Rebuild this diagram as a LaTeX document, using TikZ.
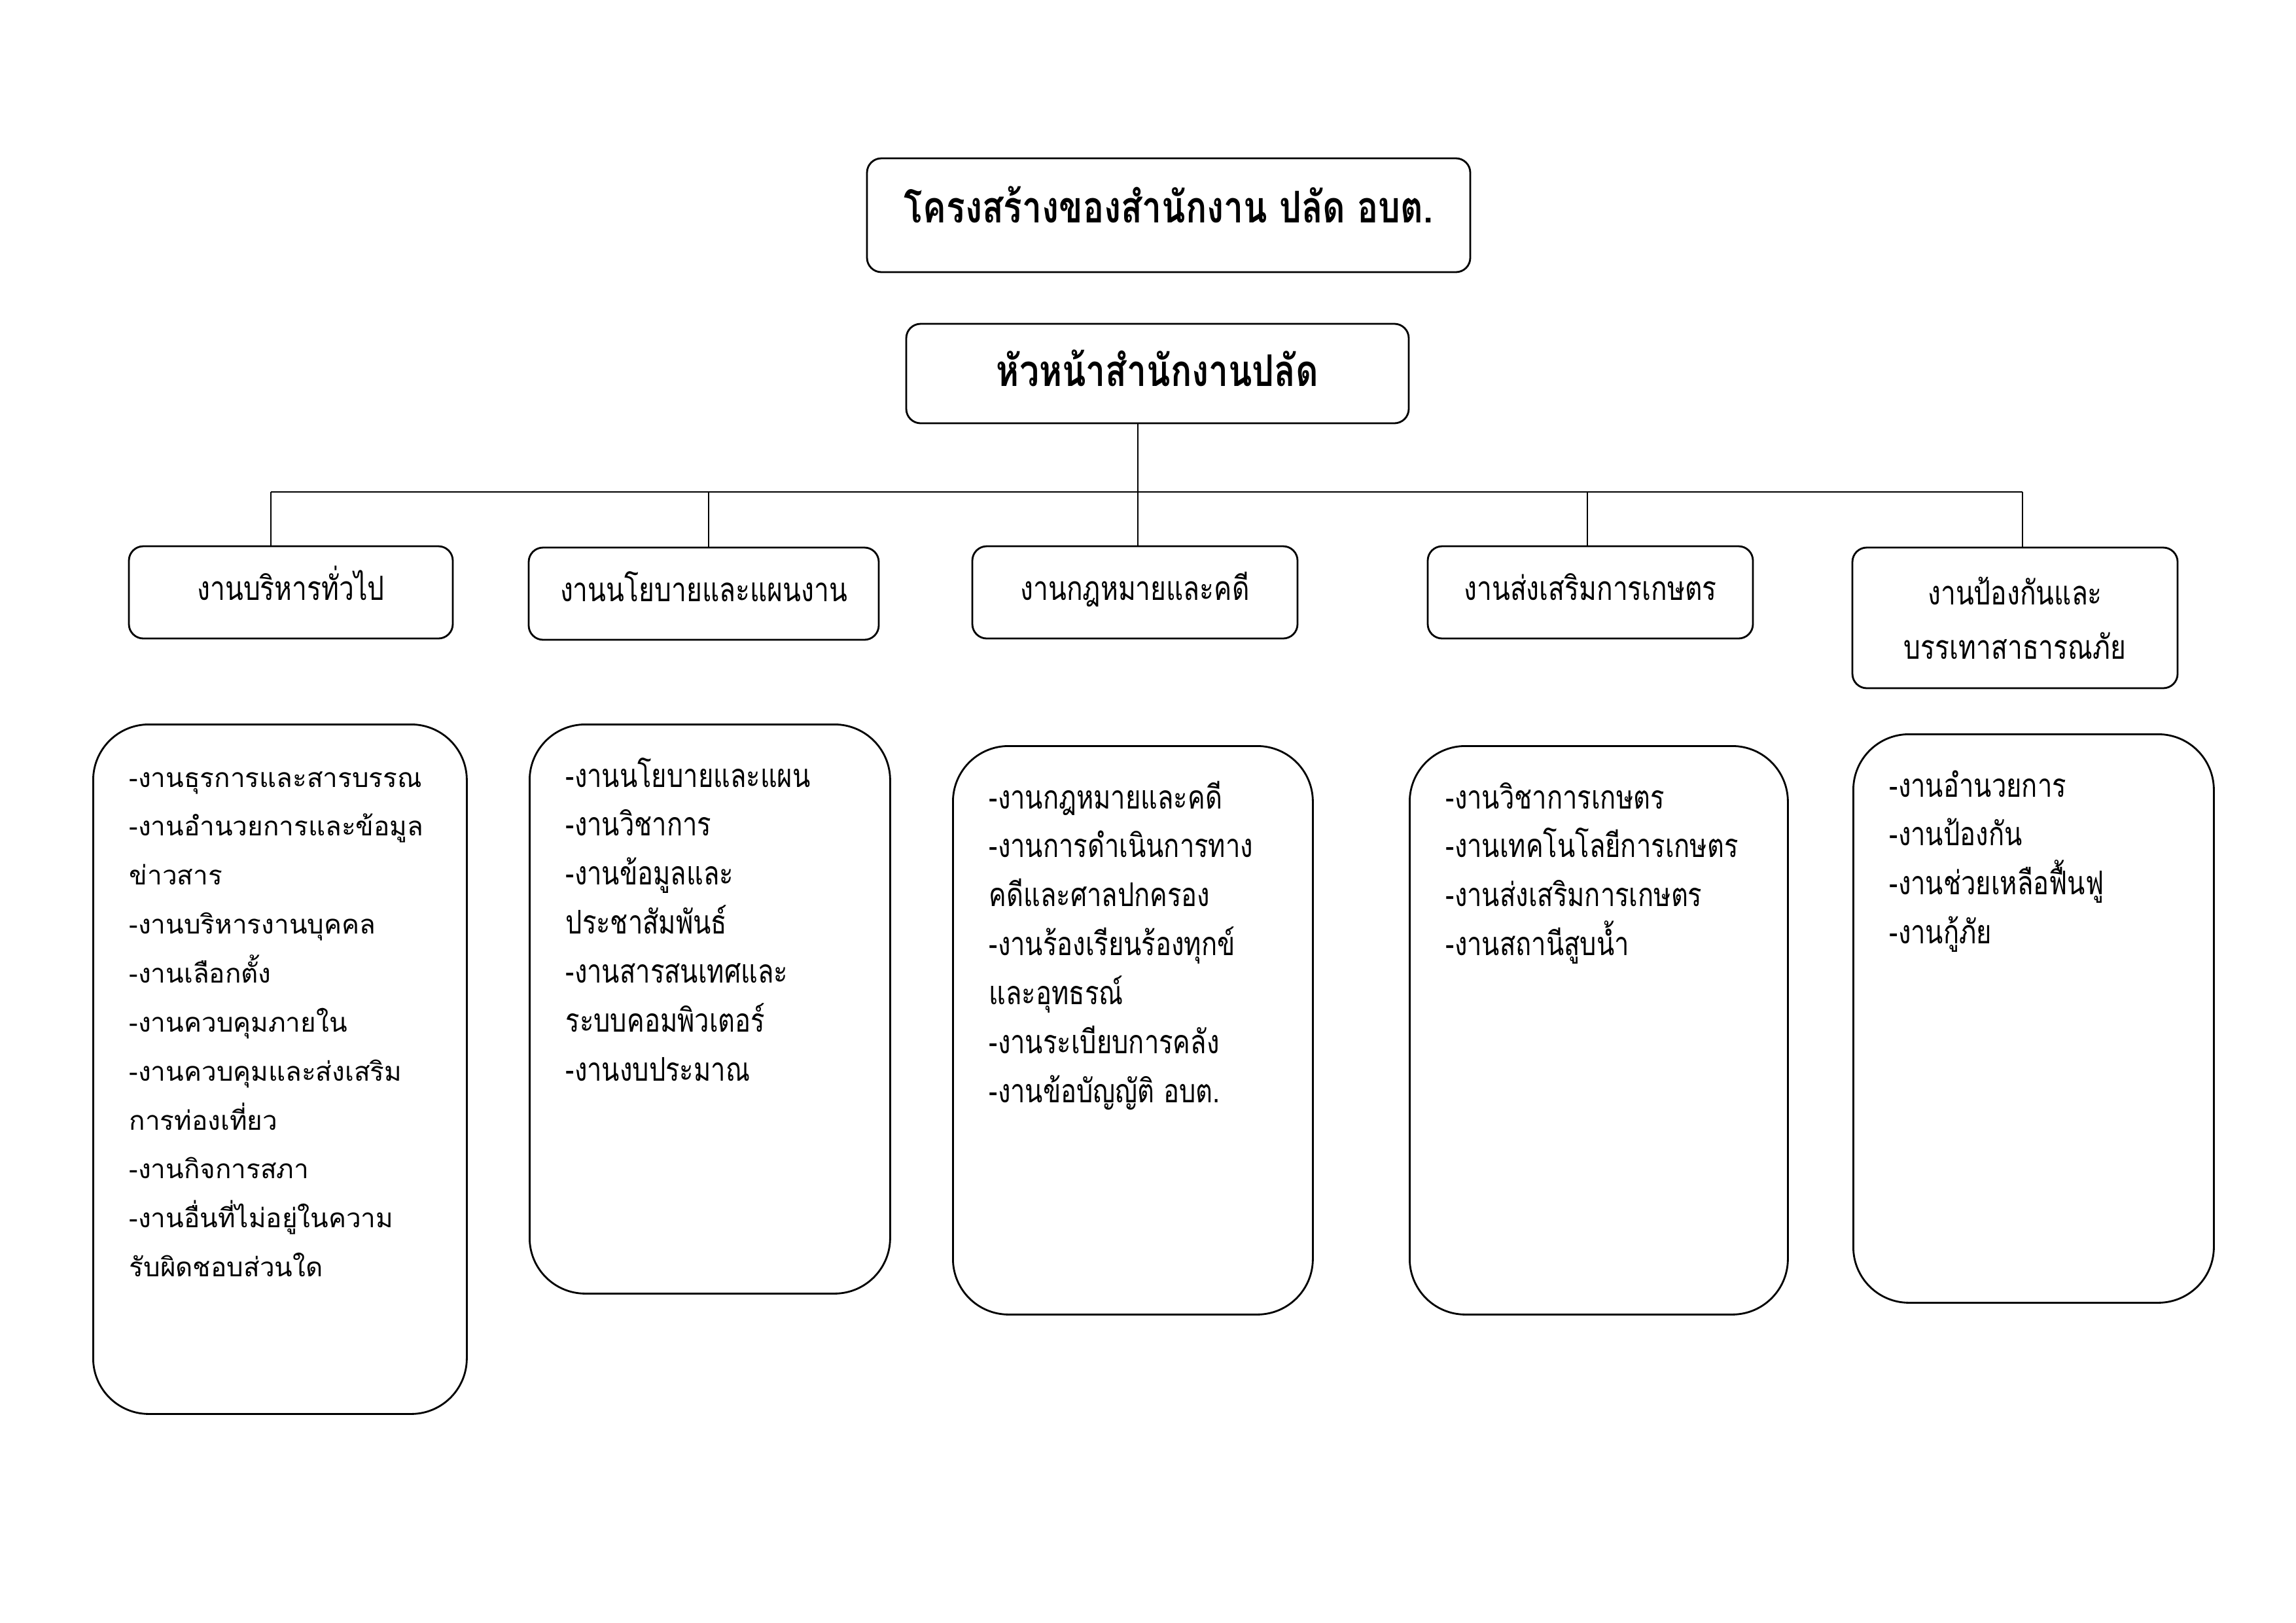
\documentclass[tikz,border=0pt]{standalone}
\usepackage{fontspec}
\setmainfont[Script=Thai]{Loma}
\newfontfamily\thaicond[Script=Thai,FakeStretch=0.8]{Loma}
\tikzset{
  headbox/.style={draw, line width=0.8pt, rounded corners=2.2mm, inner sep=0pt,
    font=\thaicond\bfseries\fontsize{19}{23}\selectfont},
  unitbox/.style={draw, line width=0.8pt, rounded corners=2.2mm, minimum width=49.7mm,
    minimum height=14.1mm, inner sep=0pt, align=center,
    font=\thaicond\fontsize{14.5}{23.6}\selectfont},
  oneline/.style={text height=4.4mm, text depth=2.1mm},
  listbox/.style={draw, line width=0.8pt, rounded corners=8.5mm, inner sep=0pt, anchor=north west},
  listtext/.style={anchor=base west, inner sep=0pt, font=\thaicond\fontsize{14.2}{21.3}\selectfont},
  tree/.style={line width=0.7pt},
}
\newcommand{\worklist}[2]{\parbox[t]{#1}{\raggedright #2}}

\begin{document}
\begin{tikzpicture}[x=1mm, y=-1mm]
  \useasboundingbox (0,0) rectangle (350.9,248);

  % top of the chart
  \node[headbox, minimum width=92.2mm, minimum height=17.4mm,
        text height=4.9mm, text depth=2.7mm] (title) at (178.6,32.9)
        {โครงสร้างของสำนักงาน ปลัด อบต.};
  \node[headbox, minimum width=76.8mm, minimum height=15.2mm,
        text height=5.3mm, text depth=1.5mm] (head) at (176.9,57.1)
        {หัวหน้าสำนักงานปลัด};

  % units
  \node[unitbox, oneline, minimum width=49.5mm] (gen) at (44.45,90.55) {งานบริหารทั่วไป};
  \node[unitbox, oneline, minimum width=53.5mm] (plan) at (107.55,90.75) {งานนโยบายและแผนงาน};
  \node[unitbox, oneline] (law) at (173.45,90.55) {งานกฎหมายและคดี};
  \node[unitbox, oneline] (agri) at (243.05,90.55) {งานส่งเสริมการเกษตร};
  \node[unitbox, minimum height=21.5mm] (disaster) at (307.95,94.45)
        {งานป้องกันและ\\บรรเทาสาธารณภัย};

  % connectors
  \foreach \x/\unit in {41.4/gen, 108.3/plan, 173.9/law, 242.6/agri, 309.1/disaster}{
    \coordinate (tap-\unit) at (\x,75.2);
    \draw[tree] (tap-\unit) -- (tap-\unit |- \unit.north);
  }
  \draw[tree] (tap-gen) -- (tap-disaster);
  \draw[tree] (tap-law |- head.south) -- (tap-law);

  % task lists
  \node[listbox, minimum width=57.1mm, minimum height=105.4mm] (genlist) at (14.1,110.6) {};
  \node[listbox, minimum width=55.1mm, minimum height=87.0mm] (planlist) at (80.8,110.6) {};
  \node[listbox, minimum width=55.0mm, minimum height=86.9mm] (lawlist) at (145.5,113.9) {};
  \node[listbox, minimum width=57.8mm, minimum height=86.9mm] (agrilist) at (215.3,113.9) {};
  \node[listbox, minimum width=55.1mm, minimum height=86.9mm] (disasterlist) at (283.1,112.1) {};

  \node[listtext, font=\normalfont\fontsize{11.5}{21.3}\selectfont] (gentext)
    at ([xshift=5.6mm, yshift=-9.7mm]genlist.north west)
    {\worklist{50mm}{-งานธุรการและสารบรรณ\\-งานอำนวยการและข้อมูล\\ข่าวสาร\\-งานบริหารงานบุคคล\\-งานเลือกตั้ง\\-งานควบคุมภายใน\\-งานควบคุมและส่งเสริม\\การท่องเที่ยว\\-งานกิจการสภา\\-งานอื่นที่ไม่อยู่ในความ\\รับผิดชอบส่วนใด}};
  \node[listtext] (plantext) at ([xshift=5.6mm, yshift=-9.7mm]planlist.north west)
    {\worklist{48mm}{-งานนโยบายและแผน\\-งานวิชาการ\\-งานข้อมูลและ\\ประชาสัมพันธ์\\-งานสารสนเทศและ\\ระบบคอมพิวเตอร์\\-งานงบประมาณ}};
  \node[listtext] (lawtext) at ([xshift=5.6mm, yshift=-9.7mm]lawlist.north west)
    {\worklist{48mm}{-งานกฎหมายและคดี\\-งานการดำเนินการทาง\\คดีและศาลปกครอง\\-งานร้องเรียนร้องทุกข์\\และอุทธรณ์\\-งานระเบียบการคลัง\\-งานข้อบัญญัติ อบต.}};
  \node[listtext] (agritext) at ([xshift=5.6mm, yshift=-9.7mm]agrilist.north west)
    {\worklist{50mm}{-งานวิชาการเกษตร\\-งานเทคโนโลยีการเกษตร\\-งานส่งเสริมการเกษตร\\-งานสถานีสูบน้ำ}};
  \node[listtext] (disastertext) at ([xshift=5.6mm, yshift=-9.7mm]disasterlist.north west)
    {\worklist{48mm}{-งานอำนวยการ\\-งานป้องกัน\\-งานช่วยเหลือฟื้นฟู\\-งานกู้ภัย}};
\end{tikzpicture}
\end{document}
